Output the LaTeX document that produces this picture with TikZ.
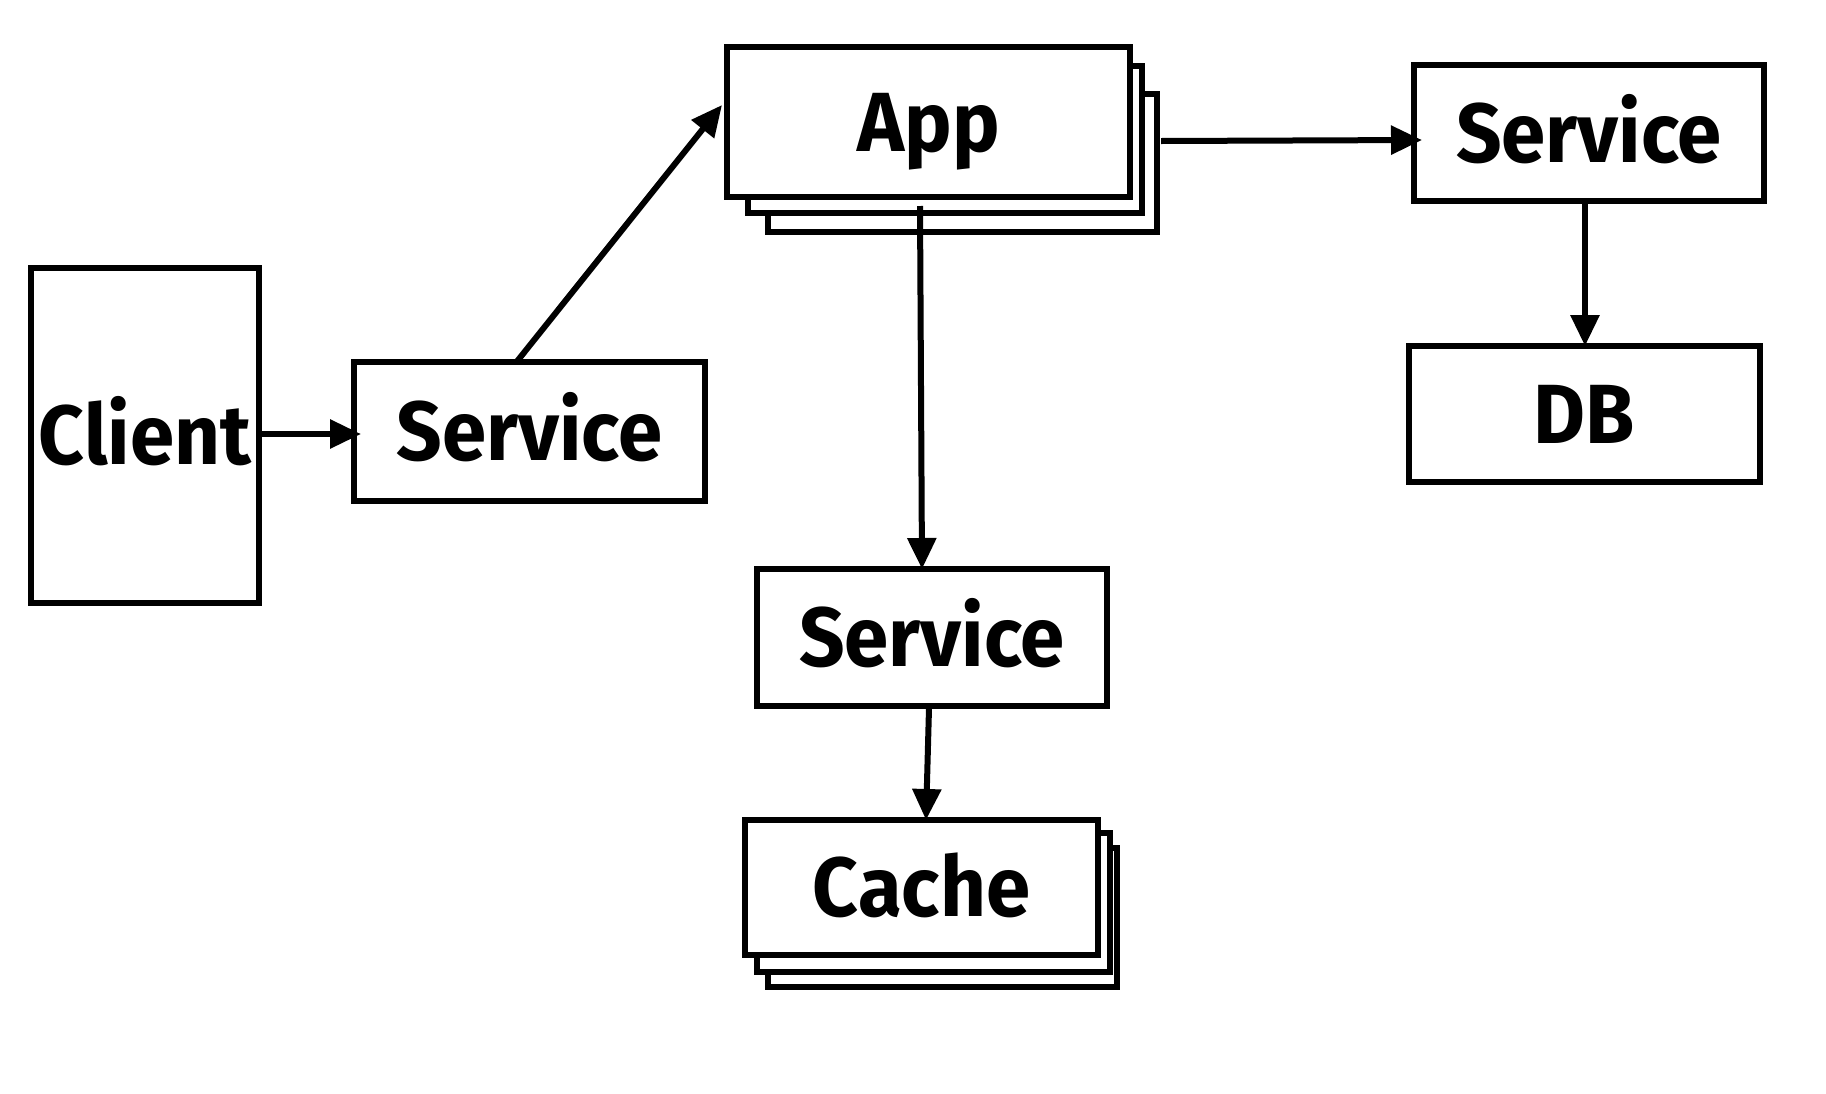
\documentclass[tikz,border=0pt]{standalone}
\usepackage{fontspec}
\newfontfamily\lbl{Fira Sans}[FakeStretch=0.95]
\usetikzlibrary{arrows.meta}
\begin{document}
\begin{tikzpicture}[x=1pt,y=-1pt,
  box/.style={draw=black,fill=white,line width=6pt,rectangle,inner sep=0pt,outer sep=0pt,
    text height=58pt,text depth=0pt,
    font=\lbl\bfseries\fontsize{84}{90}\selectfont},
  conn/.style={line width=6pt,-{Triangle[length=31pt,width=28pt]}}]
\useasboundingbox[fill=white] (0,0) rectangle (1826,1093);
\node[box,minimum width=228pt,minimum height=335pt] (client) at (145,435.5) {Client};
\node[box,minimum width=351pt,minimum height=139pt] (svc1) at (529.5,431.5) {Service};
\node[box,minimum width=389pt,minimum height=138pt] (app3) at (962.5,163) {};
\node[box,minimum width=394pt,minimum height=147pt] (app2) at (945,139.5) {};
\node[box,minimum width=403pt,minimum height=150pt] (app) at (928.5,122) {App};
\node[box,minimum width=350pt,minimum height=136pt] (svcR) at (1589,133) {Service};
\node[box,minimum width=351pt,minimum height=136pt] (db) at (1584.5,414) {DB};
\node[box,minimum width=350pt,minimum height=137pt] (svcM) at (932,637.5) {Service};
\node[box,minimum width=349pt,minimum height=139pt] (cache3) at (942.5,917.5) {};
\node[box,minimum width=353pt,minimum height=139pt] (cache2) at (933.5,902.5) {};
\node[box,minimum width=353pt,minimum height=135pt] (cache) at (921.5,887.5) {Cache};
\draw[conn] ([xshift=2pt]client.east |- 0,434) -- ([xshift=7pt]svc1.west |- 0,434);
\draw[conn] ([xshift=-13pt]svc1.north) -- ([xshift=-5pt,yshift=17pt]app.west);
\draw[conn] ([xshift=4pt]app3.east |- 0,141) -- ([xshift=8pt]svcR.west |- 0,140);
\draw[conn] ([xshift=-8.5pt,yshift=-9pt]app.south) -- ([xshift=-10pt]svcM.north);
\draw[conn] ([yshift=-2pt]svcR.south -| 1585,0) -- (db.north -| 1585,0);
\draw[conn] ([xshift=-3pt,yshift=-2pt]svcM.south) -- ([xshift=4.5pt]cache.north);
\end{tikzpicture}
\end{document}
